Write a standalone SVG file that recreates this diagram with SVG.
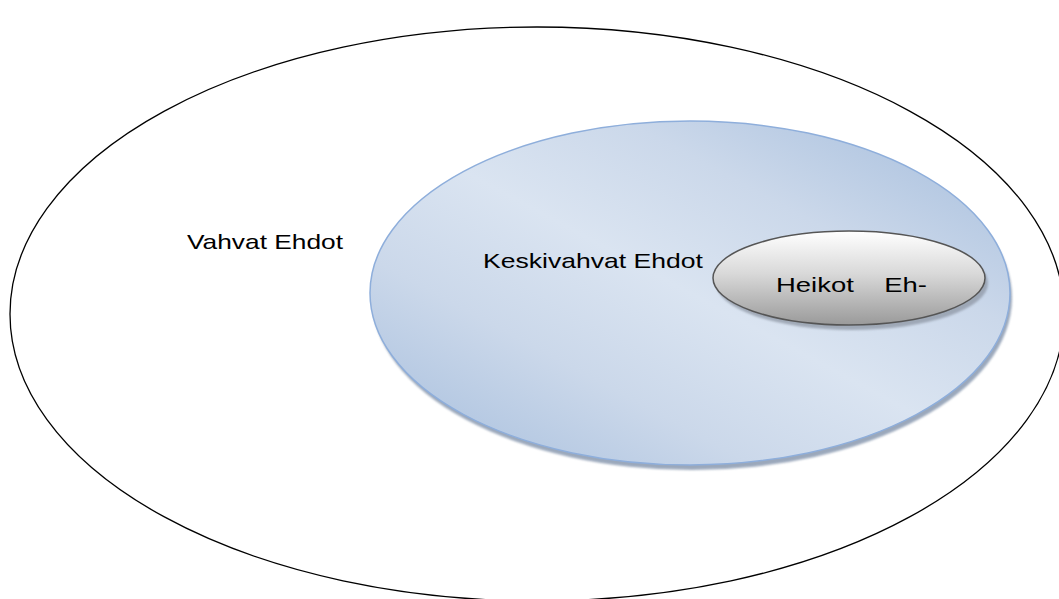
<svg xmlns="http://www.w3.org/2000/svg" width="1059" height="599" viewBox="0 0 1059 599">
<defs>
<linearGradient id="blueG" x1="0" y1="1" x2="1" y2="0">
<stop offset="0" stop-color="#a3bcdc"/>
<stop offset="0.3" stop-color="#cbd8ea"/>
<stop offset="0.5" stop-color="#dae4f1"/>
<stop offset="0.7" stop-color="#cbd8ea"/>
<stop offset="1" stop-color="#a3bcdc"/>
</linearGradient>
<linearGradient id="grayG" x1="0" y1="0" x2="0" y2="1">
<stop offset="0" stop-color="#ffffff"/>
<stop offset="0.45" stop-color="#d9d9d9"/>
<stop offset="1" stop-color="#9a9a9a"/>
</linearGradient>
<filter id="blur" x="-10%" y="-10%" width="120%" height="120%"><feGaussianBlur stdDeviation="1"/></filter>
</defs>
<style>
.lbl{font-family:"Liberation Sans","Open Sans",sans-serif;font-size:21px;fill:#000}
</style>
<rect width="1059" height="599" fill="#fff"/>
<g id="outer">
<ellipse cx="537" cy="314" rx="527" ry="287" fill="none" stroke="#000" stroke-width="1.3"/>
<text class="lbl" x="187" y="249" textLength="156" lengthAdjust="spacingAndGlyphs">Vahvat Ehdot</text>
</g>
<g id="middle">
<ellipse cx="692" cy="298" rx="320" ry="172" fill="#8a9ab0" opacity="0.85" filter="url(#blur)"/>
<ellipse cx="690" cy="293" rx="320" ry="172" fill="url(#blueG)" stroke="#8eaedb" stroke-width="1.5"/>
<text class="lbl" x="483" y="268" textLength="220" lengthAdjust="spacingAndGlyphs">Keskivahvat Ehdot</text>
</g>
<g id="inner">
<ellipse cx="852" cy="283" rx="136" ry="47" fill="#8a93a0" opacity="0.7" filter="url(#blur)"/>
<ellipse cx="849" cy="278" rx="136" ry="47" fill="url(#grayG)" stroke="#555" stroke-width="1.5"/>
<text class="lbl" x="776" y="292" textLength="151" lengthAdjust="spacingAndGlyphs" xml:space="preserve">Heikot    Eh-</text>
</g>
</svg>
